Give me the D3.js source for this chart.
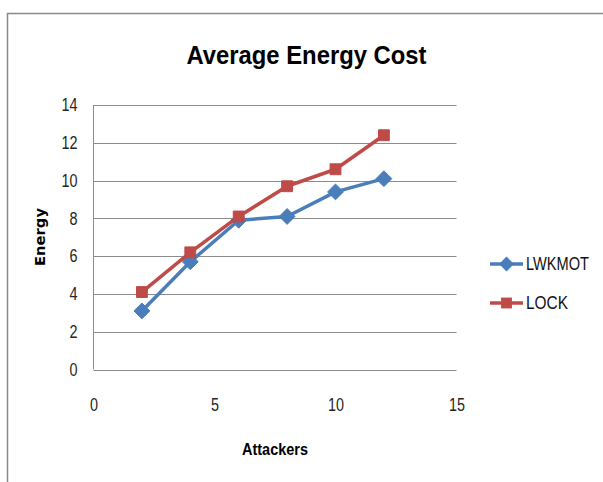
<!DOCTYPE html>
<html>
<head>
<meta charset="utf-8">
<script src="https://cdn.jsdelivr.net/npm/d3@7"></script>
<style>
  html, body { margin: 0; padding: 0; background: #fff; }
  svg { display: block; }
  text { font-family: "Liberation Sans Narrow", "Liberation Sans", "DejaVu Sans Condensed", sans-serif; }
</style>
</head>
<body>
<svg id="chart" width="603" height="482"></svg>
<script>
// Average energy cost vs number of attackers
const attackers = [2, 4, 6, 8, 10, 12];
const lwkmot = [3.1, 5.7, 7.9, 8.1, 9.4, 10.1];
const lock = [4.1, 6.2, 8.1, 9.7, 10.6, 12.4];
const xTicks = [0, 5, 10, 15];
const yTicks = [0, 2, 4, 6, 8, 10, 12, 14];
const seriesNames = ["LWKMOT", "LOCK"];
const seriesColors = ["#4A7EBB", "#BE4B48"];

const series = [
  { name: seriesNames[0], values: lwkmot, color: seriesColors[0], shape: d3.symbolDiamond2 },
  { name: seriesNames[1], values: lock, color: seriesColors[1], shape: d3.symbolSquare2 }
];

const svg = d3.select("#chart");

// outer chart frame
svg.append("rect")
  .attr("x", 7.5).attr("y", 13.5)
  .attr("width", 620).attr("height", 500)
  .attr("fill", "#fff")
  .attr("stroke", "#8a8a8a").attr("stroke-width", 1.5);

const plot = { left: 93.5, right: 456.5, top: 105, bottom: 369.5 };

const x = d3.scaleLinear().domain([0, 15]).range([plot.left, plot.right]);
const y = d3.scaleLinear().domain([0, 14]).range([plot.bottom, plot.top]);

// title
svg.append("text")
  .attr("x", 306.5).attr("y", 64)
  .attr("text-anchor", "middle")
  .attr("font-size", 26).attr("font-weight", "bold")
  .attr("textLength", 240).attr("lengthAdjust", "spacingAndGlyphs")
  .attr("fill", "#000")
  .text("Average Energy Cost");

// horizontal gridlines
svg.append("g")
  .selectAll("line")
  .data(yTicks)
  .join("line")
  .attr("x1", plot.left).attr("x2", plot.right)
  .attr("y1", d => Math.round(y(d)) + 0.5).attr("y2", d => Math.round(y(d)) + 0.5)
  .attr("stroke", "#8c8c8c").attr("stroke-width", 1);

// left axis line
svg.append("line")
  .attr("x1", plot.left).attr("x2", plot.left)
  .attr("y1", y(14)).attr("y2", y(0))
  .attr("stroke", "#8c8c8c").attr("stroke-width", 1);

// tick labels are drawn narrow, in a condensed style
function styleTicks(g) {
  g.select(".domain").remove();
  g.selectAll("text")
    .attr("font-size", 18).attr("fill", "#262626")
    .attr("textLength", d => String(d).length * 8)
    .attr("lengthAdjust", "spacingAndGlyphs");
}

// y axis tick labels
const yAxis = d3.axisLeft(y).tickValues(yTicks).tickSize(0).tickPadding(16);
svg.append("g").attr("transform", `translate(${plot.left},0)`).call(yAxis).call(styleTicks);

// x axis tick labels
const xAxis = d3.axisBottom(x).tickValues(xTicks).tickSize(0).tickPadding(29);
svg.append("g").attr("transform", `translate(0,${plot.bottom})`).call(xAxis).call(styleTicks);

// axis titles
svg.append("text")
  .attr("x", 275).attr("y", 455)
  .attr("text-anchor", "middle")
  .attr("font-size", 17).attr("font-weight", "bold")
  .attr("textLength", 66).attr("lengthAdjust", "spacingAndGlyphs")
  .text("Attackers");

svg.append("text")
  .attr("transform", "translate(45,237) rotate(-90)")
  .attr("text-anchor", "middle")
  .attr("font-size", 14).attr("font-weight", "bold")
  .style("font-family", '"DejaVu Sans", sans-serif')
  .attr("textLength", 58).attr("lengthAdjust", "spacingAndGlyphs")
  .text("Energy");

// series lines and markers
const line = d3.line().x((d, i) => x(attackers[i])).y(d => y(d));

series.forEach(s => {
  svg.append("path")
    .datum(s.values)
    .attr("d", line)
    .attr("fill", "none")
    .attr("stroke", s.color)
    .attr("stroke-width", 3.5)
    .attr("stroke-linejoin", "round");

  svg.append("g")
    .selectAll("path")
    .data(s.values)
    .join("path")
    .attr("transform", (d, i) => `translate(${x(attackers[i])},${y(d)})`)
    .attr("d", d3.symbol().type(s.shape).size(s.shape === d3.symbolSquare2 ? 150 : 160))
    .attr("fill", s.color)
    .attr("stroke", s.color);
});

// legend
const legend = svg.append("g");
series.forEach((s, i) => {
  const ly = 264 + i * 39;
  legend.append("line")
    .attr("x1", 490).attr("x2", 523)
    .attr("y1", ly).attr("y2", ly)
    .attr("stroke", s.color).attr("stroke-width", 3.5);
  legend.append("path")
    .attr("transform", `translate(506.5,${ly})`)
    .attr("d", d3.symbol().type(s.shape).size(s.shape === d3.symbolSquare2 ? 150 : 140))
    .attr("fill", s.color);
  legend.append("text")
    .attr("x", 526).attr("y", ly)
    .attr("dy", "0.36em")
    .attr("font-size", 18).attr("fill", "#111")
    .attr("textLength", s.name.length * 10.5)
    .attr("lengthAdjust", "spacingAndGlyphs")
    .text(s.name);
});
</script>
</body>
</html>
